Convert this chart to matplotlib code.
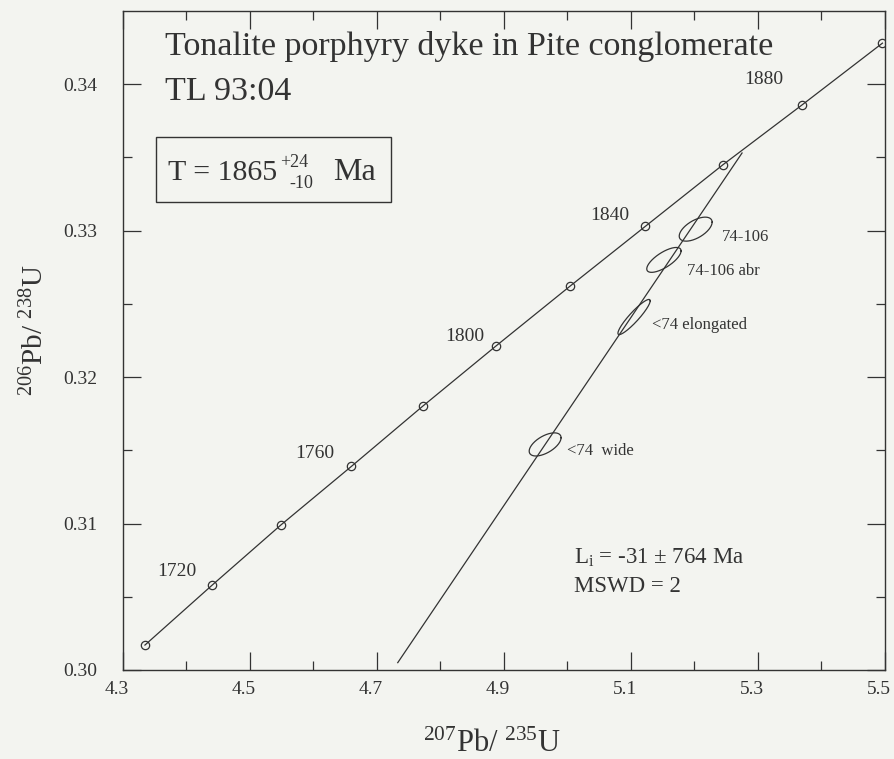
import numpy as np
import matplotlib.pyplot as plt
import matplotlib.transforms as mtransforms
from matplotlib.patches import Rectangle

# concordia age marks (Ma) and their ratios
ages = [1700, 1720, 1740, 1760, 1780, 1800, 1820, 1840, 1860, 1880, 1900]
conc_x = [4.335, 4.441, 4.549, 4.660, 4.772, 4.887, 5.004, 5.123, 5.245, 5.370, 5.496]
conc_y = [0.3017, 0.3058, 0.3099, 0.3139, 0.3180, 0.3221, 0.3262, 0.3303, 0.3345, 0.3386, 0.3428]
labelled_ages = [1720, 1760, 1800, 1840, 1880]

# discordia: lower end at frame bottom, upper intercept at 1865 Ma
disc_x = [4.733, 5.275]
disc_y = [0.3005, 0.3353]

# zircon fraction error ellipses
frac_names = ["74-106", "74-106 abr", "<74 elongated", "<74  wide"]
frac_x = [5.202, 5.152, 5.105, 4.965]
frac_y = [0.3301, 0.3280, 0.3241, 0.3154]
frac_sx = [0.0259, 0.0270, 0.0254, 0.0251]
frac_sy = [0.00082, 0.00085, 0.00120, 0.00079]
frac_rho = [0.58, 0.72, 0.92, 0.58]

ink = "#333333"
paper = "#f3f4f0"
serif = ["Liberation Serif", "DejaVu Serif"]

plt.rcParams["font.family"] = serif
plt.rcParams["mathtext.fontset"] = "custom"
plt.rcParams["mathtext.rm"] = "Liberation Serif"
plt.rcParams["mathtext.it"] = "Liberation Serif:italic"
plt.rcParams["text.color"] = ink
plt.rcParams["axes.edgecolor"] = ink
plt.rcParams["xtick.color"] = ink
plt.rcParams["ytick.color"] = ink

fig = plt.figure(figsize=(8.95, 7.59), dpi=100, facecolor=paper)
ax = fig.add_axes([0.1371, 0.1173, 0.8517, 0.8683], facecolor=paper)

# concordia curve with age markers
ax.plot(conc_x, conc_y, color=ink, lw=0.9, zorder=2)
ax.plot(conc_x, conc_y, 'o', ms=6, mfc='none', mec=ink, mew=0.9, zorder=3)

# discordia
ax.plot(disc_x, disc_y, color=ink, lw=0.9, zorder=2)

# error ellipses
t = np.linspace(0, 2 * np.pi, 200)
for cx, cy, sx, sy, r in zip(frac_x, frac_y, frac_sx, frac_sy, frac_rho):
    ex = cx + sx * np.cos(t)
    ey = cy + sy * (r * np.cos(t) + np.sqrt(1 - r ** 2) * np.sin(t))
    ax.plot(ex, ey, color=ink, lw=0.9, zorder=3)

# age labels on concordia
age_lab_pos = {1720: (4.385, 0.3067), 1760: (4.602, 0.3148), 1800: (4.838, 0.3228),
               1840: (5.066, 0.3310), 1880: (5.309, 0.3403)}
for a in labelled_ages:
    lx, ly = age_lab_pos[a]
    ax.text(lx, ly, str(a), fontsize=14, ha='center', va='center')

# fraction labels (left, baseline)
frac_lab_pos = [(5.244, 0.32932), (5.189, 0.32694), (5.134, 0.32331), (5.000, 0.31467)]
for name, (lx, ly) in zip(frac_names, frac_lab_pos):
    ax.text(lx, ly, name, fontsize=12, ha='left', va='baseline')

# title block
ax.text(0.0555, 0.933, "Tonalite porphyry dyke in Pite conglomerate", transform=ax.transAxes,
        fontsize=24.5, ha='left', va='baseline')
ax.text(0.0555, 0.865, "TL 93:04", transform=ax.transAxes, fontsize=24.5, ha='left', va='baseline')
ax.add_patch(Rectangle((0.0437, 0.7102), 0.3083, 0.0986, transform=ax.transAxes,
                       fill=False, ec=ink, lw=1.0, zorder=4))


def axfrac(px, py):
    return (px - 122.7) / 762.3, (670 - py) / 659


bx, by = axfrac(168, 180)
ax.text(bx, by, "T = 1865", transform=ax.transAxes, fontsize=21.5, ha='left', va='baseline')
px, py = axfrac(280, 163)
ax.text(px, py, "+24", transform=ax.transAxes, fontsize=13, ha='left', va='center')
px, py = axfrac(289, 184)
ax.text(px, py, "-10", transform=ax.transAxes, fontsize=13, ha='left', va='center')
px, py = axfrac(333, 180)
ax.text(px, py, "Ma", transform=ax.transAxes, fontsize=23, ha='left', va='baseline')

ax.text(0.592, 0.1608, r"L$_{\rm i}$ = -31 ± 764 Ma", transform=ax.transAxes,
        fontsize=16.5, ha='left', va='baseline')
ax.text(0.592, 0.1188, "MSWD = 2", transform=ax.transAxes, fontsize=16.5, ha='left', va='baseline')

# axes
ax.set_xlim(4.3, 5.5)
ax.set_ylim(0.30, 0.345)
ax.set_xticks(np.arange(4.3, 5.51, 0.2))
ax.set_xticklabels(["4.3", "4.5", "4.7", "4.9", "5.1", "5.3", "5.5"])
ax.set_xticks(np.arange(4.4, 5.5, 0.2), minor=True)
ax.set_yticks([0.30, 0.31, 0.32, 0.33, 0.34])
ax.set_yticklabels(["0.30", "0.31", "0.32", "0.33", "0.34"])
ax.set_yticks(np.arange(0.305, 0.345, 0.01), minor=True)
ax.tick_params(which='both', direction='in', top=True, right=True, width=0.9, labelsize=14)
ax.tick_params(which='major', length=13)
ax.tick_params(which='minor', length=6.5)
ax.tick_params(axis='x', pad=8)
ax.tick_params(axis='y', pad=18)
for sp in ax.spines.values():
    sp.set_linewidth(1.0)

shift = mtransforms.ScaledTranslation(-6 / 100, 0, fig.dpi_scale_trans)
for lab in ax.get_xticklabels():
    lab.set_transform(lab.get_transform() + shift)

fig.text(492 / 895, 1 - 752 / 759, r"$^{207}$Pb/ $^{235}$U", fontsize=22, ha='center', va='baseline')
fig.text(35 / 895, 1 - 330 / 759, r"$^{206}$Pb/ $^{238}$U", fontsize=21, ha='center', va='center',
         rotation=90)

fig.savefig("out.png", dpi=100, facecolor=paper)
